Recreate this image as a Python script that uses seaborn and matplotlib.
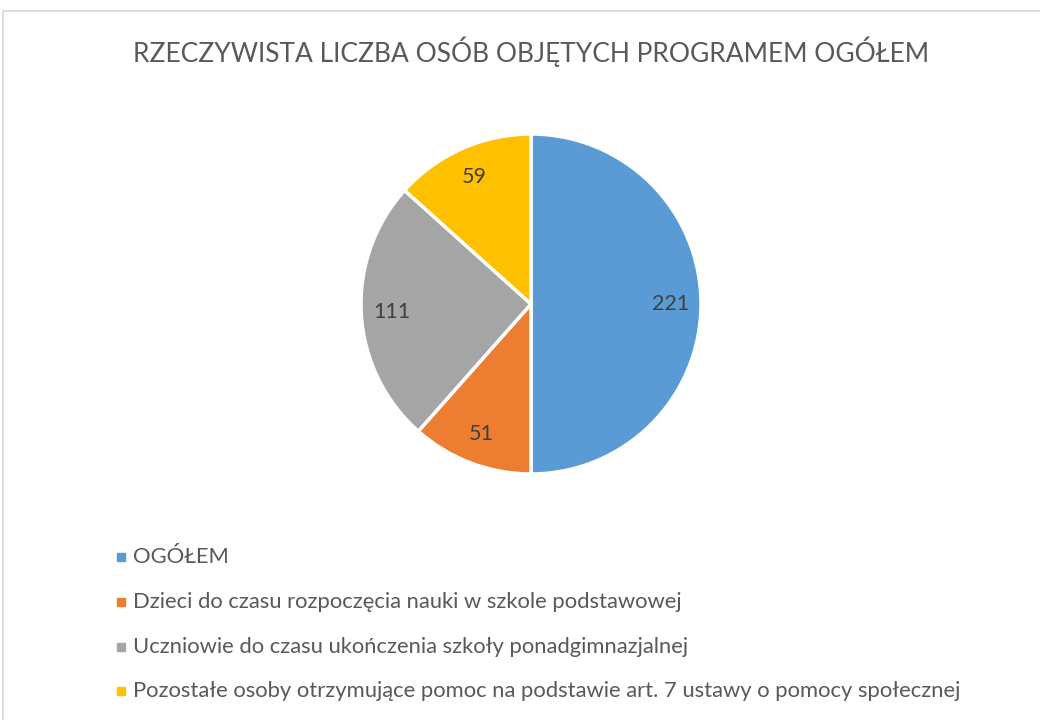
import matplotlib.pyplot as plt
import seaborn as sns
from matplotlib.patches import Rectangle

categories = ['OGÓŁEM',
              'Dzieci do czasu rozpoczęcia nauki w szkole podstawowej',
              'Uczniowie do czasu ukończenia szkoły ponadgimnazjalnej',
              'Pozostałe osoby otrzymujące pomoc na podstawie art. 7 ustawy o pomocy społecznej']
values = [221, 51, 111, 59]
colors = ['#5b9bd5', '#ed7d31', '#a5a5a5', '#ffc000']
title = 'RZECZYWISTA LICZBA OSÓB OBJĘTYCH PROGRAMEM OGÓŁEM'

sns.set_style('white')
plt.rcParams['font.family'] = ['Lato', 'DejaVu Sans']

fig = plt.figure(figsize=(10.4, 7.2), dpi=100)

# light chart border, like the spreadsheet chart frame
fig.patches.append(Rectangle((3 / 1040, -0.01), 1.1, 1 - 11 / 720 + 0.01,
                             transform=fig.transFigure, fill=False,
                             edgecolor='#d9d9d9', linewidth=1.2))

ax = fig.add_axes([361 / 1040, 1 - 474 / 720, 340 / 1040, 340 / 720])
total = sum(values)
wedges, texts, autotexts = ax.pie(
    values, colors=colors, startangle=90, counterclock=False,
    autopct=lambda p: f'{round(p * total / 100)}', pctdistance=0.82,
    wedgeprops=dict(edgecolor='white', linewidth=2.5),
    textprops=dict(color='#404040', fontsize=15.5))
ax.set_xlim(-1, 1)
ax.set_ylim(-1, 1)
ax.set_aspect('equal')
ax.axis('off')

fig.text(531 / 1040, 1 - 52 / 720, title, ha='center', va='center',
         fontsize=19, color='#595959')

legend_y = [557, 602, 647, 691]
for label, color, y in zip(categories, colors, legend_y):
    fig.patches.append(Rectangle((117 / 1040, 1 - (y + 4) / 720), 8 / 1040, 8 / 720,
                                 transform=fig.transFigure, color=color))
    fig.text(133 / 1040, 1 - y / 720, label, ha='left', va='center',
             fontsize=15.8, color='#595959')

fig.savefig('out.png', dpi=100)
